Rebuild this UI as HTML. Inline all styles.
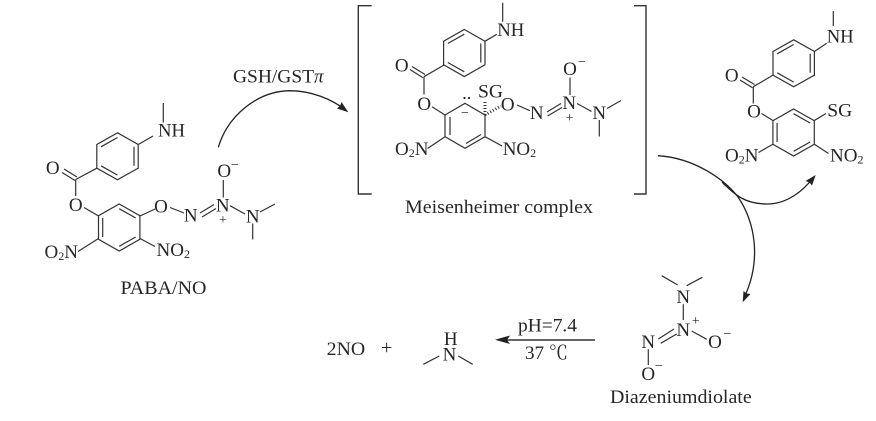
<!DOCTYPE html>
<html><head><meta charset="utf-8"><style>
html,body{margin:0;padding:0;background:#fff}
svg{display:block}
text{font-family:"Liberation Serif","Noto Serif CJK SC",serif;font-size:19px;fill:#262626;stroke:none}
.s{font-size:12px}.m{font-size:14px}.c{text-anchor:middle}
.l{stroke:#333;stroke-width:1.2;fill:none}
.a{stroke:#222;stroke-width:1.3;fill:none}
</style></head><body>
<svg width="876" height="421" viewBox="0 0 876 421" xmlns="http://www.w3.org/2000/svg">
<defs>
<g id="ra" class="l"><path d="M0,-23.5L20.7,-11.8V11.8L0,23.5L-20.7,11.8V-11.8Z"/><path d="M-16.5,-9.5L0,-18.8M16.5,-9.5V9.5M-16.5,9.5L0,18.8"/></g>
<g id="rb" class="l"><path d="M0,-23.5L20.7,-11.8V11.8L0,23.5L-20.7,11.8V-11.8Z"/><path d="M-16.5,-9.5V9.5M0,-18.8L16.5,-9.5M0,18.8L16.5,9.5"/></g>
</defs>

<!-- PABA/NO -->
<use href="#ra" x="117.5" y="156.3"/><use href="#rb" x="119.2" y="227.5"/>
<path class="l" d="M138.3,144.5L153,136M163.3,103V122.5M96.8,168.2L75.7,179.5M75.7,179.5V196M75,180.5L62,172.5M77,177L64,169M84,207.5L98.5,216M140,216L155,209M170,207.5L184,213M200,213L214,204.5M202,217L216,208.5M223.3,180V197.5M230,205.7L245,214M260,212L275,204M252.7,223.5V239.5M98.5,238.5L78,251.5M140,238.5L155,246.5"/>
<text x="158" y="136.5" textLength="27" lengthAdjust="spacingAndGlyphs">NH</text>
<text class="c" x="52.7" y="174">O</text><text class="c" x="75.7" y="211">O</text><text class="c" x="161" y="212.5">O</text>
<text class="c" x="190.7" y="221.5">N</text><text class="c" x="222.7" y="211.5">N</text><text class="c" x="224.3" y="177">O</text>
<text class="m c" x="235" y="169">−</text><text class="m c" x="223" y="224">+</text><text class="c" x="252.7" y="222.5">N</text>
<text x="44.5" y="258">O<tspan class="s" dy="2">2</tspan><tspan dy="-2">N</tspan></text>
<text x="156.5" y="256">NO<tspan class="s" dy="2">2</tspan></text>
<text x="120.5" y="294" textLength="86" lengthAdjust="spacingAndGlyphs">PABA/NO</text>

<!-- arrow 1 -->
<path class="a" d="M218.3,147.3C228,115 258,91 290,90.7C312,91 331,99 345,109.5"/>
<polygon fill="#222" points="348.3,112.3 337,108.5 340,106 341.5,102"/>
<text x="233" y="82.7" textLength="81" lengthAdjust="spacingAndGlyphs">GSH/GST</text><text x="314" y="82.7" style="font-style:italic">π</text>

<!-- brackets -->
<path class="l" style="stroke-width:1.4" d="M371.7,5.7H358.3V194H371.7M634,5.7H646V194H634"/>

<!-- Meisenheimer -->
<use href="#ra" x="464.3" y="53"/>
<path class="l" d="M484.3,41.7L496.7,34.3M502.7,2.7V21.7M444,65L424,76.7M424,76.7V94.5M423,77.7L410,69.5M425,74.5L412,66.5M432,106.7L445,115M445,115L465,103.3L485,115V136.7L465,148.3L445,136.7V115M450,117V135M466,143.5L481,134.5M427.5,148.5L445,136.7M485,136.7L502,146M517,105L530,110.7M547,112L561,103.5M547.5,116L562,107.5M570,77.5V95M577,103.5L591.5,111.5M607,108.5L621,100.5M599.3,120V136.5"/>
<path d="M485,115L485,100" stroke="#333" stroke-width="3" stroke-dasharray="1 2" fill="none"/>
<path d="M485,115L501,106" stroke="#333" stroke-width="3" stroke-dasharray="1 2" fill="none"/>
<circle cx="464.5" cy="98" r="1.1" fill="#222"/><circle cx="469" cy="98" r="1.1" fill="#222"/>
<text class="m c" x="465" y="117">−</text>
<text x="478" y="97.3" textLength="25" lengthAdjust="spacingAndGlyphs">SG</text>
<text x="497.3" y="36" textLength="27" lengthAdjust="spacingAndGlyphs">NH</text>
<text class="c" x="401.7" y="71.5">O</text><text class="c" x="424.3" y="110">O</text><text class="c" x="507.7" y="110.5">O</text>
<text class="c" x="536.7" y="119">N</text><text class="c" x="569.3" y="109">N</text><text class="c" x="570" y="75">O</text>
<text class="m c" x="582" y="66">−</text><text class="m c" x="569.5" y="122">+</text><text class="c" x="599.3" y="119">N</text>
<text x="395" y="155">O<tspan class="s" dy="2">2</tspan><tspan dy="-2">N</tspan></text>
<text x="502.7" y="155">NO<tspan class="s" dy="2">2</tspan></text>
<text x="405" y="213" textLength="188" lengthAdjust="spacingAndGlyphs">Meisenheimer complex</text>

<!-- Product -->
<use href="#ra" x="793.7" y="63.3"/><use href="#rb" x="793.6" y="132.5"/>
<path class="l" d="M814,51.7L826.7,43.3M833.3,11V26M773.3,75L753.3,86.7M753.3,86.7V103.5M752.5,87.8L740,80M754.5,84.5L742,77M761.5,113.5L773.3,120.7M814,120.7L826,113.5M758.5,152.5L773.3,144M814,144L828.5,153.5"/>
<text x="826.7" y="42.3" textLength="27" lengthAdjust="spacingAndGlyphs">NH</text>
<text class="c" x="731.7" y="81.5">O</text><text class="c" x="754" y="117.5">O</text>
<text x="827.3" y="116.7" textLength="25" lengthAdjust="spacingAndGlyphs">SG</text>
<text x="725" y="161.7">O<tspan class="s" dy="2">2</tspan><tspan dy="-2">N</tspan></text>
<text x="830" y="161.7">NO<tspan class="s" dy="2">2</tspan></text>

<!-- curved arrows -->
<path class="a" d="M658,155.7C695,158 725,180 738,197C755,222 762,260 744,298"/>
<polygon fill="#222" points="742.7,302.3 743.5,291 746.5,293.5 750.5,294"/>
<path class="a" d="M722,182C735,195 745,204 767,204C787,204 803,191 813,178"/>
<polygon fill="#222" points="815.7,175 812,185.5 809.5,182.5 805.5,181"/>

<!-- bottom -->
<path class="l" style="stroke-width:1.5" d="M595,340H505"/>
<polygon fill="#222" points="495,339.7 510,335.5 507,340 510,344"/>
<text x="518" y="331.7" textLength="59" lengthAdjust="spacingAndGlyphs">pH=7.4</text>
<text x="525" y="359" textLength="43" lengthAdjust="spacingAndGlyphs">37 ℃</text>
<text x="326.7" y="355" textLength="38.5" lengthAdjust="spacingAndGlyphs">2NO</text>
<text class="c" x="386.7" y="354" style="font-size:20px">+</text>
<text class="c" x="450.7" y="345">H</text><text class="c" x="449.5" y="360.7">N</text>
<path class="l" d="M423.3,364.3L439.3,356M458.3,356L472.7,364.3"/>

<!-- Diazeniumdiolate -->
<path class="l" d="M661.7,275.7L677.7,285M702.3,277.3L686.7,285.7M683.3,304.3V320M691.7,331L706.7,339.3M658.3,339L674,329M660.7,343.3L676.7,334M648.3,349.3V365"/>
<text class="c" x="683.3" y="303">N</text><text class="c" x="683.3" y="336">N</text>
<text class="m c" x="695.7" y="325">+</text>
<text class="c" x="715" y="348">O</text><text class="m c" x="727.5" y="338">−</text>
<text class="c" x="648.3" y="348">N</text><text class="c" x="648.3" y="380">O</text>
<text class="m c" x="659" y="370">−</text>
<text x="610" y="403" textLength="141.7" lengthAdjust="spacingAndGlyphs">Diazeniumdiolate</text>
</svg>
</body></html>
